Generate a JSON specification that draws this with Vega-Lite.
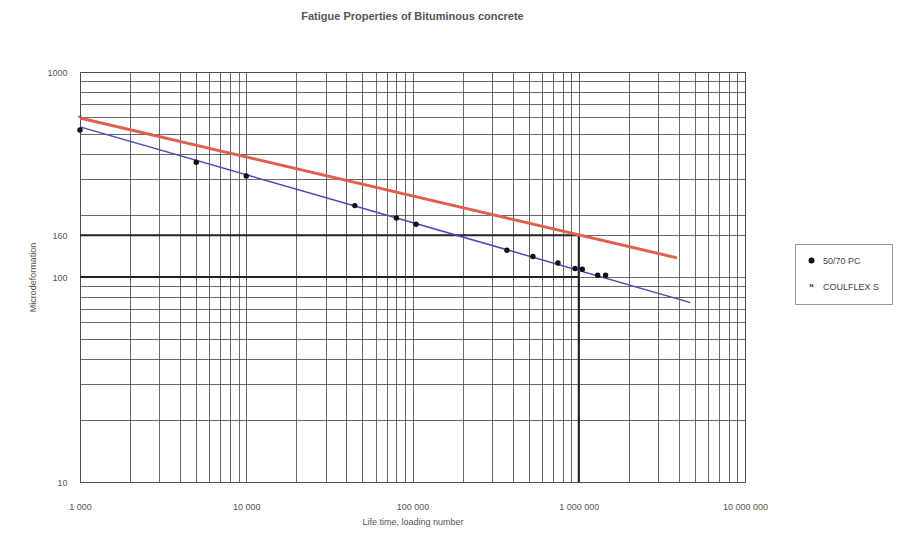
{
  "$schema": "https://vega.github.io/schema/vega-lite/v6.json",
  "width": 665,
  "height": 410,
  "autosize": {"type": "none"},
  "padding": {"left": 80, "top": 72, "right": 162, "bottom": 56},
  "background": "white",
  "config": {
    "font": "Liberation Sans",
    "view": {"stroke": "#777", "strokeWidth": 1}
  },
  "title": {
    "text": "Fatigue Properties of Bituminous concrete",
    "fontSize": 11,
    "fontWeight": "bold",
    "color": "#555",
    "offset": 46,
    "anchor": "middle"
  },
  "datasets": {
    "points": [
      {"series": "50/70 PC", "x": 1000, "y": 521},
      {"series": "50/70 PC", "x": 5000, "y": 363},
      {"series": "50/70 PC", "x": 10000, "y": 311},
      {"series": "50/70 PC", "x": 45000, "y": 223},
      {"series": "50/70 PC", "x": 80000, "y": 194},
      {"series": "50/70 PC", "x": 105000, "y": 181},
      {"series": "50/70 PC", "x": 370000, "y": 135},
      {"series": "50/70 PC", "x": 530000, "y": 126},
      {"series": "50/70 PC", "x": 750000, "y": 117},
      {"series": "50/70 PC", "x": 950000, "y": 110},
      {"series": "50/70 PC", "x": 1050000, "y": 109},
      {"series": "50/70 PC", "x": 1300000, "y": 102},
      {"series": "50/70 PC", "x": 1450000, "y": 102},
      {"series": "COULFLEX S", "x": 1000, "y": 600}
    ],
    "pcLine": [
      {"x": 1000, "y": 540},
      {"x": 4700000, "y": 75}
    ],
    "cfLine": [
      {"x": 1000, "y": 597},
      {"x": 3900000, "y": 124}
    ],
    "hrules": [
      {"x": 1000, "x2": 1000000, "y": 160},
      {"x": 1000, "x2": 1000000, "y": 100}
    ],
    "vrules": [
      {"x": 1000000, "y": 10, "y2": 160}
    ]
  },
  "encoding": {
    "x": {
      "field": "x",
      "type": "quantitative",
      "scale": {"type": "log", "domain": [1000, 10000000], "nice": false},
      "axis": {
        "title": "Life time, loading number",
        "values": [1000, 2000, 3000, 4000, 5000, 6000, 7000, 8000, 9000, 10000, 20000, 30000, 40000, 50000, 60000, 70000, 80000, 90000, 100000, 200000, 300000, 400000, 500000, 600000, 700000, 800000, 900000, 1000000, 2000000, 3000000, 4000000, 5000000, 6000000, 7000000, 8000000, 9000000, 10000000],
        "labelExpr": "datum.value == 1000 ? '1 000' : datum.value == 10000 ? '10 000' : datum.value == 100000 ? '100 000' : datum.value == 1000000 ? '1 000 000' : datum.value == 10000000 ? '10 000 000' : ''",
        "labelOverlap": false,
        "labelFlush": false,
        "grid": true,
        "gridColor": "#444",
        "gridOpacity": 0.8,
        "ticks": false,
        "domain": false,
        "labelPadding": 20,
        "labelFontSize": 9,
        "labelColor": "#555",
        "titleFontSize": 9,
        "titleFontWeight": "normal",
        "titleColor": "#555",
        "titlePadding": 6
      }
    },
    "y": {
      "field": "y",
      "type": "quantitative",
      "scale": {"type": "log", "domain": [10, 1000], "nice": false},
      "axis": {
        "title": "Microdeformation",
        "values": [10, 20, 30, 40, 50, 60, 70, 80, 90, 100, 160, 200, 300, 400, 500, 600, 700, 800, 900, 1000],
        "labelExpr": "(datum.value == 10 || datum.value == 100 || datum.value == 160 || datum.value == 1000) ? '' + datum.value : ''",
        "labelOverlap": false,
        "labelFlush": false,
        "grid": true,
        "gridColor": "#444",
        "gridOpacity": 0.8,
        "ticks": false,
        "domain": false,
        "labelPadding": 13,
        "labelFontSize": 9,
        "labelColor": "#555",
        "titleFontSize": 9,
        "titleFontWeight": "normal",
        "titleColor": "#555",
        "titlePadding": 9
      }
    }
  },
  "layer": [
    {
      "data": {"name": "hrules"},
      "mark": {"type": "rule", "color": "#222", "strokeWidth": 2},
      "encoding": {"x2": {"field": "x2"}}
    },
    {
      "data": {"name": "vrules"},
      "mark": {"type": "rule", "color": "#222", "strokeWidth": 2},
      "encoding": {"y2": {"field": "y2"}}
    },
    {
      "data": {"name": "cfLine"},
      "mark": {"type": "line", "color": "#e0604e", "strokeWidth": 3}
    },
    {
      "data": {"name": "pcLine"},
      "mark": {"type": "line", "color": "#4a4ab4", "strokeWidth": 1.5}
    },
    {
      "data": {"name": "points"},
      "mark": {"type": "point", "size": 18, "strokeWidth": 1.2, "opacity": 1},
      "encoding": {
        "fill": {
          "field": "series",
          "type": "nominal",
          "scale": {"domain": ["50/70 PC", "COULFLEX S"], "range": ["#111", "transparent"]},
          "legend": {"title": null, "orient": "none", "legendX": 715, "legendY": 172, "strokeColor": "#999", "padding": 12, "labelFontSize": 9, "labelColor": "#444", "rowPadding": 15, "symbolSize": 20, "labelOffset": 7}
        },
        "stroke": {
          "field": "series",
          "type": "nominal",
          "scale": {"domain": ["50/70 PC", "COULFLEX S"], "range": ["#111", "#555"]},
          "legend": {"title": null, "orient": "none", "legendX": 715, "legendY": 172, "strokeColor": "#999", "padding": 12, "labelFontSize": 9, "labelColor": "#444", "rowPadding": 15, "symbolSize": 20, "labelOffset": 7}
        },
        "shape": {
          "field": "series",
          "type": "nominal",
          "scale": {"domain": ["50/70 PC", "COULFLEX S"], "range": ["circle", "M-0.6,-1L-0.3,0.2M0.3,-1L0.6,0.2"]},
          "legend": {"title": null, "orient": "none", "legendX": 715, "legendY": 172, "strokeColor": "#999", "padding": 12, "labelFontSize": 9, "labelColor": "#444", "rowPadding": 15, "symbolSize": 20, "labelOffset": 7}
        }
      }
    }
  ]
}
